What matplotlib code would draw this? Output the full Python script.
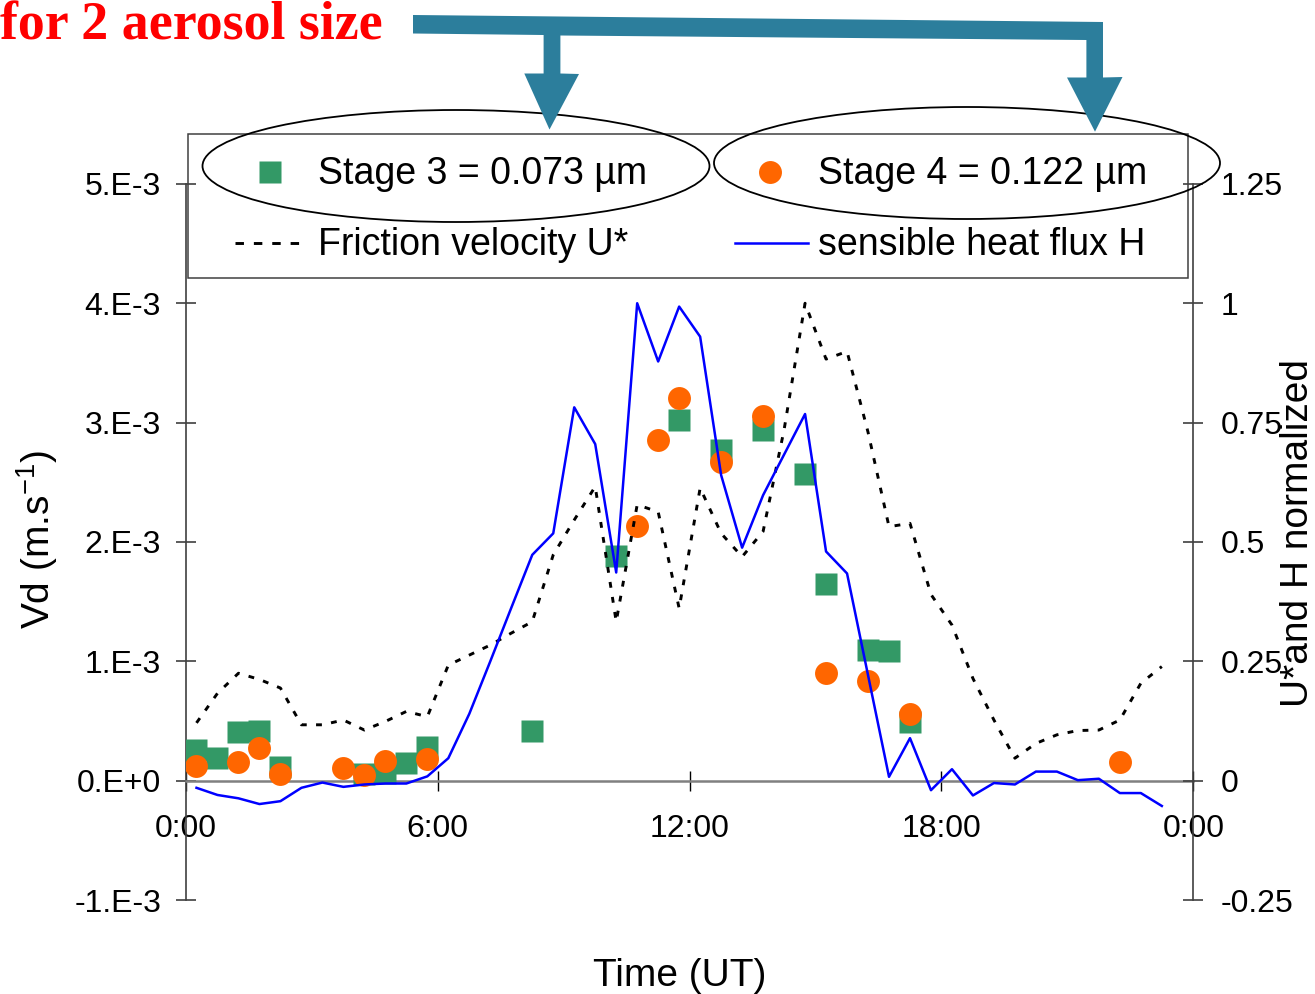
import matplotlib
matplotlib.use("Agg")
import matplotlib.pyplot as plt
from matplotlib.patches import Ellipse, Polygon, Rectangle
from matplotlib.lines import Line2D

plt.rcParams['font.family'] = ['Liberation Sans', 'DejaVu Sans']
plt.rcParams['mathtext.fontset'] = 'custom'
plt.rcParams['mathtext.rm'] = 'Liberation Sans'
plt.rcParams['mathtext.it'] = 'Liberation Sans:italic'

# ---------------- data ----------------
# Stage 3 (0.073 um) deposition velocity, m/s
stage3_time = [0.25, 0.75, 1.25, 1.75, 2.25, 4.25, 4.75, 5.25, 5.75, 8.25,
               10.25, 11.75, 12.75, 13.75, 14.75, 15.25, 16.25, 16.75, 17.25]
stage3_vd = [0.257e-3, 0.188e-3, 0.410e-3, 0.419e-3, 0.112e-3, 0.056e-3, 0.062e-3,
             0.151e-3, 0.285e-3, 0.419e-3, 1.883e-3, 3.020e-3, 2.770e-3, 2.940e-3,
             2.570e-3, 1.648e-3, 1.095e-3, 1.087e-3, 0.494e-3]

# Stage 4 (0.122 um) deposition velocity, m/s
stage4_time = [0.25, 1.25, 1.75, 2.25, 3.75, 4.25, 4.75, 5.75, 10.75, 11.25,
               11.75, 12.75, 13.75, 15.25, 16.25, 17.25, 22.25]
stage4_vd = [0.123e-3, 0.154e-3, 0.271e-3, 0.056e-3, 0.104e-3, 0.048e-3, 0.168e-3,
             0.179e-3, 2.134e-3, 2.855e-3, 3.210e-3, 2.673e-3, 3.056e-3, 0.905e-3,
             0.835e-3, 0.559e-3, 0.154e-3]

# half-hourly series (hours UT)
line_time = [0.25, 0.75, 1.25, 1.75, 2.25, 2.75, 3.25, 3.75, 4.25, 4.75, 5.25, 5.75,
             6.25, 6.75, 7.25, 7.75, 8.25, 8.75, 9.25, 9.75, 10.25, 10.75, 11.25, 11.75,
             12.25, 12.75, 13.25, 13.75, 14.25, 14.75, 15.25, 15.75, 16.25, 16.75, 17.25,
             17.75, 18.25, 18.75, 19.25, 19.75, 20.25, 20.75, 21.25, 21.75, 22.25, 22.75,
             23.25]
ustar_norm = [0.121, 0.183, 0.225, 0.212, 0.194, 0.117, 0.117, 0.127, 0.106, 0.124,
              0.145, 0.134, 0.242, 0.263, 0.284, 0.309, 0.333, 0.473, 0.546, 0.616,
              0.333, 0.578, 0.563, 0.361, 0.613, 0.518, 0.469, 0.522, 0.735, 1.000,
              0.883, 0.899, 0.730, 0.532, 0.539, 0.390, 0.326, 0.214, 0.127, 0.047,
              0.078, 0.096, 0.105, 0.106, 0.127, 0.204, 0.239]
heat_norm = [-0.015, -0.030, -0.037, -0.049, -0.043, -0.015, -0.004, -0.013, -0.008,
             -0.006, -0.006, 0.009, 0.047, 0.140, 0.250, 0.362, 0.473, 0.518, 0.782,
             0.705, 0.436, 1.000, 0.878, 0.993, 0.930, 0.640, 0.488, 0.598, 0.683,
             0.768, 0.480, 0.434, 0.221, 0.008, 0.089, -0.020, 0.024, -0.031, -0.005,
             -0.008, 0.019, 0.019, 0.001, 0.004, -0.026, -0.026, -0.053]

x_ticks = [0, 6, 12, 18, 24]
x_ticklabels = ['0:00', '6:00', '12:00', '18:00', '0:00']
left_ticks = [-1e-3, 0, 1e-3, 2e-3, 3e-3, 4e-3, 5e-3]
left_ticklabels = ['-1.E-3', '0.E+0', '1.E-3', '2.E-3', '3.E-3', '4.E-3', '5.E-3']
right_ticks = [-0.25, 0, 0.25, 0.5, 0.75, 1, 1.25]
right_ticklabels = ['-0.25', '0', '0.25', '0.5', '0.75', '1', '1.25']

# ---------------- figure ----------------
W, H = 1315, 994
fig = plt.figure(figsize=(W / 100, H / 100), dpi=100)


def fx(x):
    return x / W


def fy(y):
    return 1 - y / H


ax_l, ax_r, ax_t, ax_b = 186, 1193.3, 183.9, 900
ax = fig.add_axes([fx(ax_l), fy(ax_b), (ax_r - ax_l) / W, (ax_b - ax_t) / H])
ax2 = ax.twinx()

GREEN = '#339966'
ORANGE = '#FF6600'

ax.plot(stage3_time, stage3_vd, linestyle='none', marker='s', ms=16,
        color=GREEN, mec='none', zorder=3)
ax.plot(stage4_time, stage4_vd, linestyle='none', marker='o', ms=16.5,
        color=ORANGE, mec='none', zorder=4)

ax2.plot(line_time, ustar_norm, color='black', lw=2.1, dashes=(2.0, 3.2),
         dash_capstyle='butt')
ax2.plot(line_time, heat_norm, color='#0000FF', lw=1.8)

ax.set_xlim(0, 24)
ax.set_ylim(-1e-3, 5e-3)
ax2.set_ylim(-0.25, 1.25)

ax.set_xticks(x_ticks)
ax.set_xticklabels(x_ticklabels)
ax.set_yticks(left_ticks)
ax.set_yticklabels(left_ticklabels)
ax2.set_yticks(right_ticks)
ax2.set_yticklabels(right_ticklabels)

for s in ['top', 'right']:
    ax.spines[s].set_visible(False)
ax.spines['bottom'].set_position(('data', 0))
ax.spines['bottom'].set_color('#808080')
ax.spines['bottom'].set_linewidth(1.8)
ax.spines['left'].set_color('#404040')
ax.spines['left'].set_linewidth(1.2)
for s in ['top', 'left', 'bottom']:
    ax2.spines[s].set_visible(False)
ax2.spines['right'].set_color('#404040')
ax2.spines['right'].set_linewidth(1.2)

ax.tick_params(axis='y', direction='inout', length=14, width=1.2, color='#404040',
               labelsize=23, pad=11)
ax.tick_params(axis='x', direction='inout', length=14, width=1.0, color='black',
               labelsize=23, pad=17)
ax2.tick_params(axis='y', direction='inout', length=14, width=1.2, color='#404040',
                labelsize=23, pad=13)
ax.patch.set_visible(False)

# axis labels
fig.text(fx(37), fy(540), 'Vd (m.s$^{-1}$)', rotation=90, ha='center', va='center',
         fontsize=28)
fig.text(fx(1298), fy(533), 'U*and H normalized', rotation=90, ha='center',
         va='center', fontsize=28)
fig.text(fx(680), fy(986), 'Time (UT)', ha='center', va='baseline', fontsize=28)

# legend box
fig.add_artist(Rectangle((fx(188.3), fy(277.7)), (1188.3 - 188.3) / W,
                         (277.7 - 134.3) / H, transform=fig.transFigure,
                         fill=False, edgecolor='#404040', lw=1.1))
fig.add_artist(Line2D([fx(270)], [fy(172)], marker='s', ms=16, color=GREEN,
                      mec='none', linestyle='none', transform=fig.transFigure))
fig.add_artist(Line2D([fx(770)], [fy(172)], marker='o', ms=16.5, color=ORANGE,
                      mec='none', linestyle='none', transform=fig.transFigure))
fig.add_artist(Line2D([fx(235), fx(302)], [fy(242.5), fy(242.5)], color='black',
                      lw=2.1, dashes=(2.9, 3.4), transform=fig.transFigure))
fig.add_artist(Line2D([fx(735), fx(808)], [fy(242.5), fy(242.5)], color='#0000FF',
                      lw=1.8, transform=fig.transFigure))
fig.text(fx(318), fy(183.5), 'Stage 3 = 0.073 µm', fontsize=27, va='baseline')
fig.text(fx(818), fy(183.5), 'Stage 4 = 0.122 µm', fontsize=27, va='baseline')
fig.text(fx(318), fy(255), 'Friction velocity U*', fontsize=27, va='baseline')
fig.text(fx(818), fy(255), 'sensible heat flux H', fontsize=27, va='baseline')

# ellipses
fig.add_artist(Ellipse((fx(456), fy(166)), 507 / W, 112 / H, transform=fig.transFigure,
                       fill=False, edgecolor='black', lw=1.3))
fig.add_artist(Ellipse((fx(967), fy(163)), 506 / W, 112 / H, transform=fig.transFigure,
                       fill=False, edgecolor='black', lw=1.3))

# arrows
arrow_px = [(413, 15), (1103, 22), (1103, 77.5), (1122.5, 77), (1095, 131.7),
            (1067, 77.5), (1086.4, 77.5), (1086.4, 40), (560.4, 35.5), (560.4, 73.5),
            (579, 74), (549.5, 129.5), (524.3, 73.5), (543.6, 73.5), (543.6, 35),
            (413, 33.5)]
fig.add_artist(Polygon([(fx(x), fy(y)) for x, y in arrow_px], closed=True,
                       transform=fig.transFigure, facecolor='#2C7E9C',
                       edgecolor='none'))

fig.text(fx(0), fy(40), 'for 2 aerosol size', color='#FF0000', fontsize=38.8,
         fontweight='bold', family=['Liberation Serif', 'DejaVu Serif'], va='baseline')

fig.savefig('out.png', dpi=100)
